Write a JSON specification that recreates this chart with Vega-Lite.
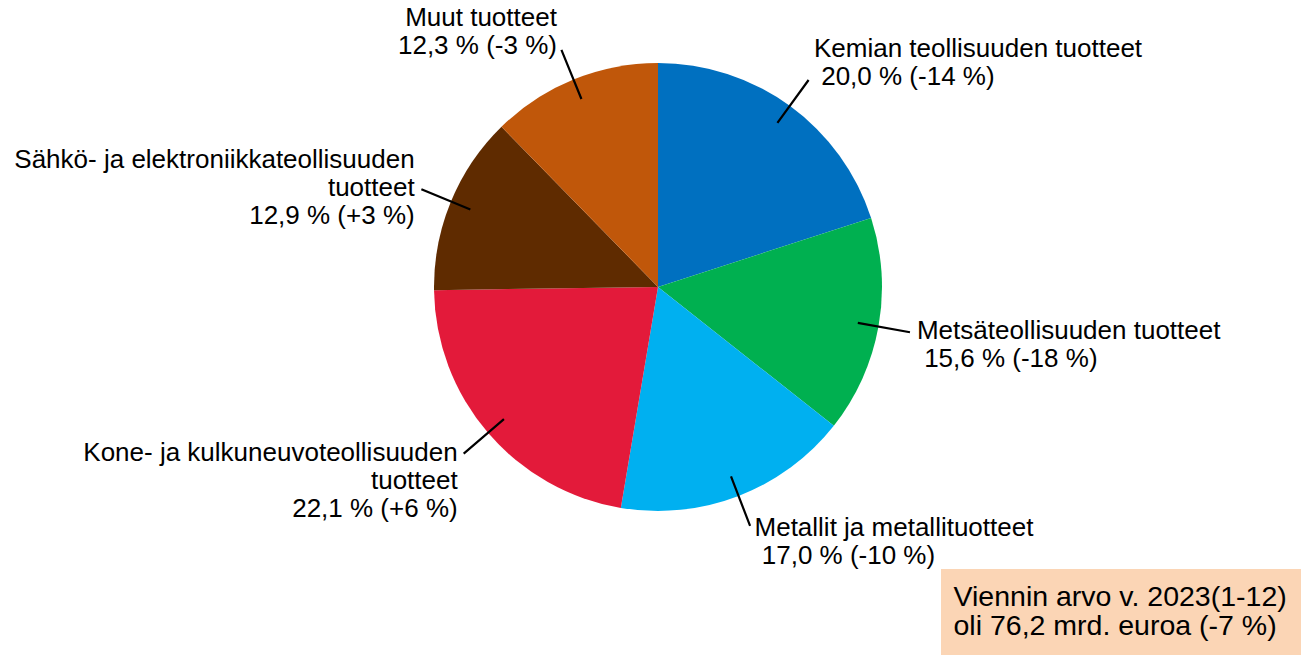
{
  "$schema": "https://vega.github.io/schema/vega-lite/v6.json",
  "width": 1286,
  "height": 736,
  "autosize": {"type": "none"},
  "padding": {"left": 15, "top": -81, "right": 0, "bottom": 0},
  "background": "white",
  "config": {"view": {"stroke": null}},
  "datasets": {
    "shares": [
      {"idx": 1, "cat": "Kemian teollisuuden tuotteet", "share": 20.0, "change": -14, "lines": ["Kemian teollisuuden tuotteet", "\u200b\u00a020,0 % (-14 %)"]},
      {"idx": 2, "cat": "Metsäteollisuuden tuotteet", "share": 15.6, "change": -18, "lines": ["Metsäteollisuuden tuotteet", "\u200b\u00a015,6 % (-18 %)"]},
      {"idx": 3, "cat": "Metallit ja metallituotteet", "share": 17.0, "change": -10, "lines": ["Metallit ja metallituotteet", "\u200b\u00a017,0 % (-10 %)"]},
      {"idx": 4, "cat": "Kone- ja kulkuneuvoteollisuuden tuotteet", "share": 22.1, "change": 6, "lines": ["Kone- ja kulkuneuvoteollisuuden", "tuotteet", "22,1 % (+6 %)"]},
      {"idx": 5, "cat": "Sähkö- ja elektroniikkateollisuuden tuotteet", "share": 12.9, "change": 3, "lines": ["Sähkö- ja elektroniikkateollisuuden", "tuotteet", "12,9 % (+3 %)"]},
      {"idx": 6, "cat": "Muut tuotteet", "share": 12.3, "change": -3, "lines": ["Muut tuotteet", "12,3 % (-3 %)"]}
    ],
    "note": [
      {"line": "Viennin arvo v. 2023(1-12)"},
      {"line": "oli 76,2 mrd. euroa (-7 %)"}
    ]
  },
  "layer": [
    {
      "data": {"name": "shares"},
      "mark": {"type": "arc", "outerRadius": 224},
      "encoding": {
        "theta": {"field": "share", "type": "quantitative", "stack": true},
        "order": {"field": "idx", "type": "quantitative"},
        "color": {
          "field": "cat", "type": "nominal",
          "scale": {
            "domain": ["Kemian teollisuuden tuotteet", "Metsäteollisuuden tuotteet", "Metallit ja metallituotteet", "Kone- ja kulkuneuvoteollisuuden tuotteet", "Sähkö- ja elektroniikkateollisuuden tuotteet", "Muut tuotteet"],
            "range": ["#0070C0", "#00B050", "#00B0F0", "#E31A3A", "#5F2B00", "#C0570A"]
          },
          "legend": null
        }
      }
    },
    {
      "data": {"name": "shares"},
      "mark": {"type": "arc", "innerRadius": 203, "outerRadius": 256, "padAngle": 1.3, "fill": "#000000", "fillOpacity": 0, "stroke": "#000000", "strokeWidth": 2.2},
      "encoding": {
        "theta": {"field": "share", "type": "quantitative", "stack": true},
        "order": {"field": "idx", "type": "quantitative"}
      }
    },
    {
      "data": {"name": "shares"},
      "mark": {"type": "text", "radius": 260, "align": "left", "baseline": "middle", "dx": 3, "dy": -2, "font": "Liberation Sans", "fontSize": 26, "lineHeight": 28, "color": "#000000"},
      "encoding": {
        "theta": {"field": "share", "type": "quantitative", "stack": true},
        "order": {"field": "idx", "type": "quantitative"},
        "text": {"condition": {"test": {"field": "cat", "oneOf": ["Metsäteollisuuden tuotteet", "Metallit ja metallituotteet"]}, "field": "lines", "type": "nominal"}, "value": ""}
      }
    },
    {
      "data": {"name": "shares"},
      "mark": {"type": "text", "radius": 260, "align": "left", "baseline": "middle", "dx": 3, "dy": -28, "font": "Liberation Sans", "fontSize": 26, "lineHeight": 28, "color": "#000000"},
      "encoding": {
        "theta": {"field": "share", "type": "quantitative", "stack": true},
        "order": {"field": "idx", "type": "quantitative"},
        "text": {"condition": {"test": {"field": "cat", "oneOf": ["Kemian teollisuuden tuotteet"]}, "field": "lines", "type": "nominal"}, "value": ""}
      }
    },
    {
      "data": {"name": "shares"},
      "mark": {"type": "text", "radius": 260, "align": "right", "baseline": "middle", "dx": -3, "dy": -3, "font": "Liberation Sans", "fontSize": 26, "lineHeight": 28, "color": "#000000"},
      "encoding": {
        "theta": {"field": "share", "type": "quantitative", "stack": true},
        "order": {"field": "idx", "type": "quantitative"},
        "text": {"condition": {"test": {"field": "cat", "oneOf": ["Kone- ja kulkuneuvoteollisuuden tuotteet"]}, "field": "lines", "type": "nominal"}, "value": ""}
      }
    },
    {
      "data": {"name": "shares"},
      "mark": {"type": "text", "radius": 260, "align": "right", "baseline": "middle", "dx": -3, "dy": -28, "font": "Liberation Sans", "fontSize": 26, "lineHeight": 28, "color": "#000000"},
      "encoding": {
        "theta": {"field": "share", "type": "quantitative", "stack": true},
        "order": {"field": "idx", "type": "quantitative"},
        "text": {"condition": {"test": {"field": "cat", "oneOf": ["Sähkö- ja elektroniikkateollisuuden tuotteet", "Muut tuotteet"]}, "field": "lines", "type": "nominal"}, "value": ""}
      }
    },
    {
      "data": {"name": "note"},
      "mark": {"type": "point", "opacity": 0, "size": 0},
      "encoding": {
        "shape": {
          "field": "line", "type": "nominal",
          "scale": {"domain": ["Viennin arvo v. 2023(1-12)", "oli 76,2 mrd. euroa (-7 %)"], "range": ["circle", "circle"]},
          "legend": {
            "title": null, "orient": "bottom-right", "offset": 0,
            "fillColor": "#FBD5B5", "padding": 14,
            "labelFont": "Liberation Sans", "labelFontSize": 28.5, "labelColor": "#000000",
            "labelLimit": 600, "labelOffset": -30,
            "symbolSize": 1, "symbolOpacity": 0, "symbolStrokeWidth": 0,
            "rowPadding": 0
          }
        }
      }
    }
  ]
}
